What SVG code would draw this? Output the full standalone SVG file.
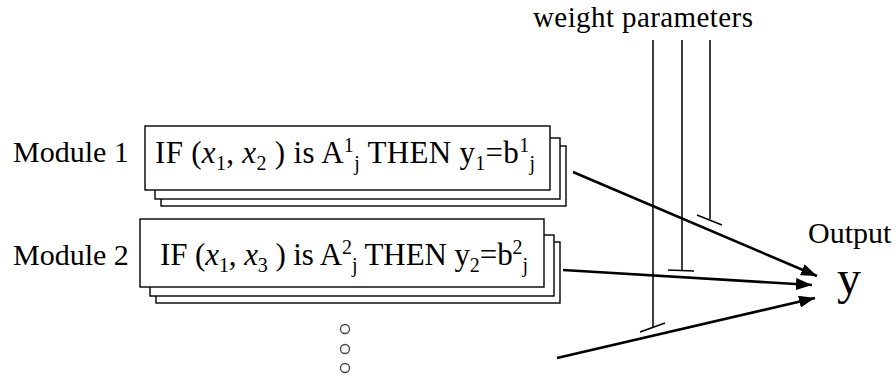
<svg xmlns="http://www.w3.org/2000/svg" width="896" height="387" viewBox="0 0 896 387">
<style>
text{font-family:"Liberation Serif","Times New Roman",serif;fill:#000}
.t{font-size:30px}
.b{font-size:31px}
.s{font-size:20px}
.box{fill:#fff;stroke:#000;stroke-width:1.4}
.w{stroke:#000;stroke-width:1.5;fill:none}
.arr{stroke:#000;stroke-width:2.6;fill:none;marker-end:url(#ah)}
.dot{fill:#fff;stroke:#444;stroke-width:1.3}
</style>
<defs>
<marker id="ah" markerUnits="userSpaceOnUse" markerWidth="17" markerHeight="12" refX="16" refY="6" orient="auto">
<path d="M0,0 L16,6 L0,12 z" fill="#000"/>
</marker>
</defs>
<rect width="896" height="387" fill="#fff"/>
<text x="533" y="27" font-size="29" textLength="220" lengthAdjust="spacing">weight parameters</text>
<g id="module1">
<text class="t" x="13" y="162">Module 1</text>
<rect class="box" x="161" y="146" width="405" height="60"/>
<rect class="box" x="155" y="138" width="405" height="61"/>
<rect class="box" x="145" y="126" width="405" height="64"/>
<text class="b" x="155" y="163" textLength="380" lengthAdjust="spacing">IF (<tspan font-style="italic">x</tspan><tspan class="s" dy="7">1</tspan><tspan dy="-7">, </tspan><tspan font-style="italic">x</tspan><tspan class="s" dy="7">2</tspan><tspan dy="-7"> ) is A</tspan><tspan class="s" dy="-11">1</tspan><tspan class="s" dy="18">j</tspan><tspan dy="-7"> THEN y</tspan><tspan class="s" dy="7">1</tspan><tspan dy="-7">=b</tspan><tspan class="s" dy="-11">1</tspan><tspan class="s" dy="18">j</tspan></text>
</g>
<g id="module2">
<text class="t" x="13" y="265">Module 2</text>
<rect class="box" x="156" y="242" width="404" height="61"/>
<rect class="box" x="150" y="235" width="404" height="61"/>
<rect class="box" x="140" y="219" width="404" height="68"/>
<text class="b" x="160" y="265" textLength="368" lengthAdjust="spacing">IF (<tspan font-style="italic">x</tspan><tspan class="s" dy="7">1</tspan><tspan dy="-7">, </tspan><tspan font-style="italic">x</tspan><tspan class="s" dy="7">3</tspan><tspan dy="-7"> ) is A</tspan><tspan class="s" dy="-11">2</tspan><tspan class="s" dy="18">j</tspan><tspan dy="-7"> THEN y</tspan><tspan class="s" dy="7">2</tspan><tspan dy="-7">=b</tspan><tspan class="s" dy="-11">2</tspan><tspan class="s" dy="18">j</tspan></text>
</g>
<g id="dots">
<circle class="dot" cx="345" cy="329" r="4.5"/>
<circle class="dot" cx="345" cy="349" r="4.5"/>
<circle class="dot" cx="345" cy="368" r="4.5"/>
</g>
<g id="output">
<text class="t" x="808" y="243">Output</text>
<text x="837" y="294" font-size="48">y</text>
</g>
<g id="connectors">
<line class="w" x1="653" y1="40" x2="653" y2="327"/>
<line class="w" x1="640" y1="332" x2="665" y2="323"/>
<line class="w" x1="682" y1="40" x2="682" y2="270"/>
<line class="w" x1="668" y1="270" x2="694" y2="271"/>
<line class="w" x1="710" y1="40" x2="710" y2="219"/>
<line class="w" x1="697" y1="215" x2="722" y2="225"/>
<line class="arr" x1="573" y1="172" x2="817" y2="276"/>
<line class="arr" x1="563" y1="270" x2="812" y2="285"/>
<line class="arr" x1="557" y1="358" x2="815" y2="298"/>
</g>
</svg>
